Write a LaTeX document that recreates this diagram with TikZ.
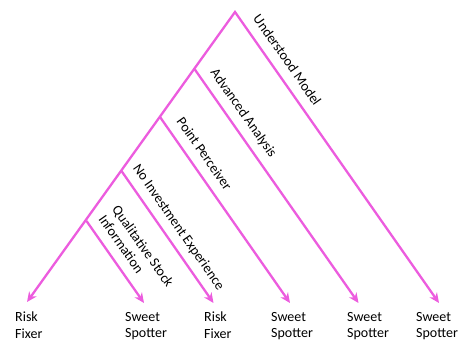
\documentclass[tikz,border=0pt]{standalone}
\usepackage{fontspec}
\setmainfont{Carlito}
\usetikzlibrary{arrows.meta}
\definecolor{treepink}{RGB}{236,92,222}

\begin{document}
\begin{tikzpicture}[x=1pt,y=-1pt,
  branch/.style={draw=treepink,line width=2.3pt,line join=miter,-{Stealth[length=10pt,width=9pt]}},
  cut/.style={sloped,above=7pt,inner sep=0pt,text depth=0.25em,align=left,font=\fontsize{14}{16.5}\selectfont},
  leaf/.style={anchor=north west,inner sep=0pt,align=left,font=\fontsize{14}{16.5}\selectfont}]
\useasboundingbox (0,0) rectangle (460,343);
% split points on the left edge
\coordinate (top) at (235,12);
\coordinate (s1) at (194.5,69);
\coordinate (s2) at (160,117);
\coordinate (s3) at (121.5,171);
\coordinate (s4) at (86.5,221);
% arrow ends
\coordinate (e0) at (27,302);
\coordinate (e1) at (144,303);
\coordinate (e2) at (213.5,303);
\coordinate (e3) at (290,303);
\coordinate (e4) at (358.5,303);
\coordinate (e5) at (439,303);

\draw[branch,{Stealth[length=10pt,width=9pt]}-{Stealth[length=10pt,width=9pt]}] (e0) -- (top) -- (e5)
  node[cut,pos=0.195] (um) {Understood Model};
\draw[branch] (s1) -- (e4) node[cut,pos=0.225] (aa) {Advanced Analysis};
\draw[branch] (s2) -- (e3) node[cut,pos=0.245] (pp) {Point Perceiver};
\draw[branch] (s3) -- (e2) node[cut,pos=0.49] (ni) {No Investment Experience};
\draw[branch] (s4) -- (e1) node[cut,pos=0.53] (qs) {Qualitative Stock\\Information};

\node[leaf] (l0) at (15,312) {Risk\\Fixer};
\node[leaf] (l1) at (125,312) {Sweet\\Spotter};
\node[leaf] (l2) at (204,312) {Risk\\Fixer};
\node[leaf] (l3) at (271,312) {Sweet\\Spotter};
\node[leaf] (l4) at (347,312) {Sweet\\Spotter};
\node[leaf] (l5) at (416,312) {Sweet\\Spotter};
\end{tikzpicture}
\end{document}
